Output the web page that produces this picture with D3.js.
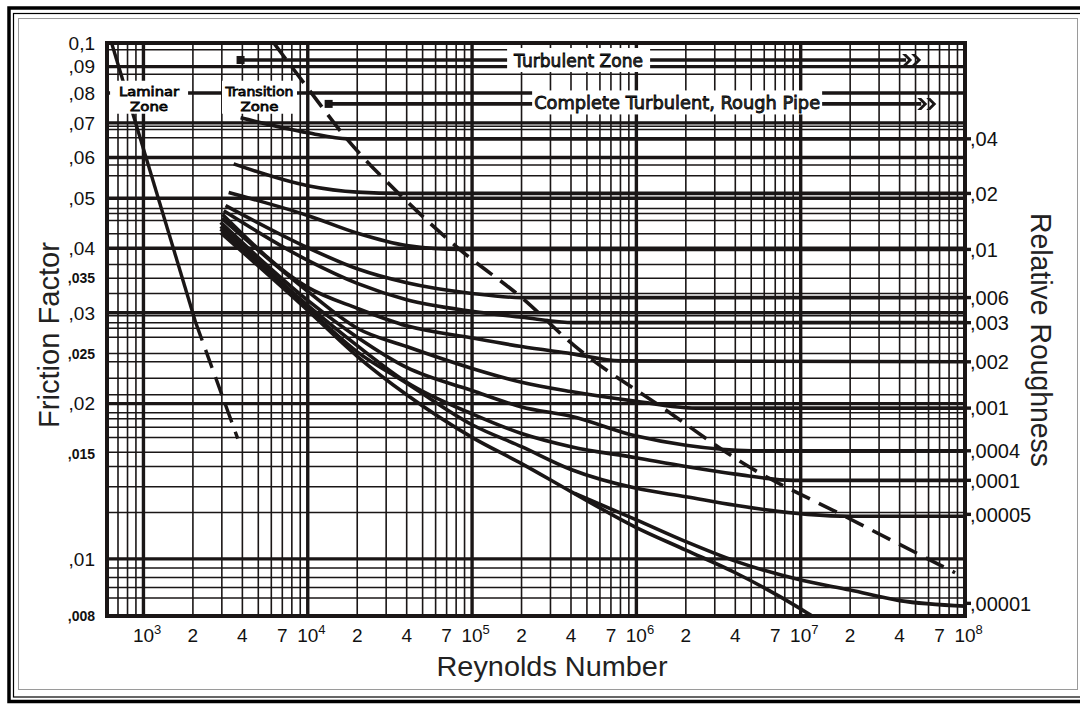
<!DOCTYPE html>
<html>
<head>
<meta charset="utf-8">
<script src="https://cdn.jsdelivr.net/npm/d3@7"></script>
<style>
  html, body { margin: 0; padding: 0; background: #fff; }
  svg { display: block; font-family: "Liberation Sans", Arial, sans-serif; }
</style>
</head>
<body>
<svg id="chart" width="1080" height="704"></svg>
<script>
// Values
var reynoldsDomain = [600, 1e8];
var frictionDomain = [0.00775, 0.1];

var xTickValues = [1e3, 2e3, 4e3, 7e3, 1e4, 2e4, 4e4, 7e4, 1e5, 2e5, 4e5, 7e5,
  1e6, 2e6, 4e6, 7e6, 1e7, 2e7, 4e7, 7e7, 1e8];
var xTickLabels = ["10^3", "2", "4", "7", "10^4", "2", "4", "7", "10^5", "2", "4", "7",
  "10^6", "2", "4", "7", "10^7", "2", "4", "7", "10^8"];

var yTickValues = [0.1, 0.09, 0.08, 0.07, 0.06, 0.05, 0.04, 0.035, 0.03, 0.025, 0.02, 0.016, 0.01, 0.00775];
var yTickLabels = ["0,1", ",09", ",08", ",07", ",06", ",05", ",04", ",035", ",03", ",025", ",02", ",015", ",01", ",008"];

// relative roughness labels on the right, at the friction value of each asymptote
var roughnessLabels = [",04", ",02", ",01", ",006", ",003", ",002", ",001", ",0004", ",0001", ",00005", ",00001"];
var roughnessFriction = [0.0652, 0.0511, 0.0398, 0.0321, 0.0287, 0.0241, 0.0196, 0.0162, 0.0142, 0.0122, 0.0082];

var majorFriction = [0.09, 0.08, 0.07, 0.06, 0.05, 0.04, 0.03, 0.02, 0.01];
var minorFriction = [0.097, 0.087, 0.069, 0.068, 0.0655, 0.058, 0.0553, 0.0478, 0.0467, 0.0453, 0.0427,
  0.0372, 0.035, 0.0327, 0.0296, 0.0287, 0.028, 0.0269, 0.025, 0.0241, 0.0224, 0.0208,
  0.0192, 0.0187, 0.018, 0.0172, 0.0161, 0.0151, 0.0138, 0.0123, 0.0096, 0.0092, 0.0088, 0.0084];
var gridMultipliers = [1, 2, 3, 4, 5, 6, 7, 8, 9];
var gridDecades = [2, 3, 4, 5, 6, 7];

// curves: [Reynolds, friction factor]
var rough04 = [[3900, 0.0716], [1e4, 0.067], [1.75e4, 0.0652], [1e8, 0.0652]];
var rough02 = [[3540, 0.0583], [1e4, 0.0529], [2e4, 0.0514], [3.7e4, 0.0511], [1e8, 0.0511]];
var rough01 = [[3300, 0.0513], [1e4, 0.0463], [2e4, 0.0428], [4e4, 0.0405], [8.6e4, 0.0398], [1e8, 0.0398]];
var rough006 = [[3160, 0.0484], [1e4, 0.0401], [2e4, 0.0365], [4e4, 0.0343], [1e5, 0.0327], [2e5, 0.0321], [1e8, 0.0321]];
var rough003 = [[3080, 0.0473], [1e4, 0.0379], [2e4, 0.0342], [4e4, 0.0318], [1e5, 0.0302], [2e5, 0.0294],
  [4.2e5, 0.0287], [1e8, 0.0287]];
var rough002 = [[3030, 0.0465], [1e4, 0.0336], [2e4, 0.0306], [4e4, 0.0283], [1e5, 0.0268], [2e5, 0.0258],
  [4e5, 0.025], [8e5, 0.0242], [1e8, 0.0241]];
var rough001 = [[3000, 0.0457], [1e4, 0.033], [2e4, 0.028], [4e4, 0.0258], [1e5, 0.0234], [2e5, 0.022],
  [4e5, 0.0211], [1e6, 0.0202], [2.3e6, 0.0196], [1e8, 0.0196]];
var rough0004 = [[2950, 0.0449], [1e4, 0.0317], [2e4, 0.0269], [4e4, 0.0235], [1e5, 0.0212], [2e5, 0.0197],
  [4e5, 0.0189], [1e6, 0.0173], [2e6, 0.0166], [5e6, 0.0162], [1e8, 0.0162]];
var rough0001 = [[2950, 0.0441], [1e4, 0.031], [2e4, 0.0259], [4e4, 0.022], [1e5, 0.0191], [2e5, 0.0175],
  [4e5, 0.0165], [1e6, 0.0157], [2e6, 0.0151], [4e6, 0.0146], [9e6, 0.0142], [1e8, 0.0142]];
var rough00005 = [[2950, 0.0436], [1e4, 0.0306], [2e4, 0.0252], [4e4, 0.0219], [1e5, 0.0182], [2e5, 0.0165],
  [4e5, 0.0149], [1e6, 0.0137], [2e6, 0.0132], [4e6, 0.0127], [1.1e7, 0.0122], [2e7, 0.0121], [1e8, 0.0121]];
var rough00001 = [[4.2e5, 0.0134], [1e6, 0.0119], [2e6, 0.0108], [4e6, 0.0099], [1e7, 0.0091], [2e7, 0.0087],
  [4e7, 0.0083], [1e8, 0.0081]];
var smoothPipe = [[2950, 0.0429], [1e4, 0.0303], [2e4, 0.0247], [4e4, 0.0208], [1e5, 0.0172], [2e5, 0.0153],
  [4e5, 0.0135], [1e6, 0.0115], [2e6, 0.0104], [4e6, 0.0094], [1e7, 0.0080], [1.25e7, 0.00765]];

var laminarSolid = [[640, 0.1], [2080, 0.0287]];
var laminarDashed = [[2080, 0.0287], [3750, 0.0171]];
var roughBoundary = [[6210, 0.1], [9460, 0.0837], [1.75e4, 0.0649], [3.69e4, 0.0506], [8.57e4, 0.0396],
  [2e5, 0.0321], [4.19e5, 0.0259], [1.42e6, 0.0197], [4.82e6, 0.0151], [1.85e7, 0.0121], [8.7e7, 0.0094]];

// zone annotations: [Reynolds at centre, friction at centre]
var laminarZoneAt = [1082, 0.0785];
var transitionZoneAt = [5085, 0.0785];
var turbulentZoneAt = [4.45e5, 0.0927];
var roughPipeAt = [1.77e6, 0.0767];
var turbulentArrow = [3900, 4.14e7, 0.0927];
var roughPipeArrow = [1.34e4, 5.12e7, 0.0762];

var svg = d3.select("#chart");
var plot = {left: 107, right: 965, top: 43, bottom: 616};
var ink = "#1a1616";

var x = d3.scaleLog().domain(reynoldsDomain).range([plot.left, plot.right]);
var y = d3.scaleLog().domain(frictionDomain).range([plot.bottom, plot.top]);

// Outer frame
var frame = svg.append("g").attr("fill", "none");
frame.append("rect").attr("x", 9).attr("y", 8).attr("width", 1090).attr("height", 693.5)
  .attr("stroke", "#000").attr("stroke-width", 3.5);
frame.append("rect").attr("x", 13.5).attr("y", 13.5).attr("width", 1080).attr("height", 683.5)
  .attr("stroke", "#000").attr("stroke-width", 1.2);
frame.append("rect").attr("x", 18.5).attr("y", 18.5).attr("width", 1059).attr("height", 671)
  .attr("stroke", "#9a9a9a").attr("stroke-width", 1);

// Grid
var grid = svg.append("g").attr("stroke", ink);
var xGrid = [];
gridDecades.forEach(function(d) {
  gridMultipliers.forEach(function(m) {
    var v = m * Math.pow(10, d);
    if (v > reynoldsDomain[0] && v < reynoldsDomain[1]) xGrid.push({v: v, major: m === 1});
  });
});
grid.selectAll(".vx").data(xGrid).enter().append("line")
  .attr("x1", function(d) { return x(d.v); }).attr("x2", function(d) { return x(d.v); })
  .attr("y1", plot.top).attr("y2", plot.bottom)
  .attr("stroke-width", function(d) { return d.major ? 3.4 : 1.6; });
grid.selectAll(".hmin").data(minorFriction).enter().append("line")
  .attr("x1", plot.left).attr("x2", plot.right)
  .attr("y1", function(d) { return y(d); }).attr("y2", function(d) { return y(d); })
  .attr("stroke-width", 1.5);
grid.selectAll(".hmaj").data(majorFriction).enter().append("line")
  .attr("x1", plot.left).attr("x2", plot.right)
  .attr("y1", function(d) { return y(d); }).attr("y2", function(d) { return y(d); })
  .attr("stroke-width", 3.4);

// Curves
svg.append("clipPath").attr("id", "plotClip").append("rect")
  .attr("x", plot.left).attr("y", plot.top)
  .attr("width", plot.right - plot.left).attr("height", plot.bottom - plot.top);

var line = d3.line()
  .x(function(d) { return x(d[0]); })
  .y(function(d) { return y(d[1]); })
  .curve(d3.curveMonotoneX);

var curves = [rough04, rough02, rough01, rough006, rough003, rough002, rough001,
  rough0004, rough0001, rough00005, rough00001, smoothPipe];

var marks = svg.append("g").attr("clip-path", "url(#plotClip)")
  .attr("fill", "none").attr("stroke", ink).attr("stroke-linecap", "butt");
marks.selectAll(".curve").data(curves).enter().append("path")
  .attr("d", line).attr("stroke-width", 3.6);
marks.append("path").datum(laminarSolid).attr("d", line).attr("stroke-width", 3.4);
marks.append("path").datum(laminarDashed).attr("d", line).attr("stroke-width", 3.4)
  .attr("stroke-dasharray", "19,10");
marks.append("path").datum(roughBoundary).attr("d", line).attr("stroke-width", 3.6)
  .attr("stroke-dasharray", "20,10");

// Zone arrows
function zoneArrow(a) {
  var x0 = x(a[0]), x1 = x(a[1]), yy = y(a[2]);
  var g = svg.append("g");
  g.append("line").attr("x1", x0).attr("x2", x1 + 4).attr("y1", yy).attr("y2", yy)
    .attr("stroke", ink).attr("stroke-width", 3.6);
  g.append("rect").attr("x", x0 - 4).attr("y", yy - 4).attr("width", 8).attr("height", 8).attr("fill", ink);
  [0, 9].forEach(function(dx) {
    var c = x1 + dx;
    g.append("path")
      .attr("d", "M" + c + "," + (yy - 6) + "h4l6,6l-6,6h-4l6,-6z")
      .attr("fill", ink);
  });
}
zoneArrow(turbulentArrow);
zoneArrow(roughPipeArrow);

// Zone labels on white boxes
function zoneLabel(at, w, h, lines, size, lengths, offsets) {
  var cx = x(at[0]), cy = y(at[1]);
  var g = svg.append("g");
  g.append("rect").attr("x", cx - w / 2).attr("y", cy - h / 2).attr("width", w).attr("height", h)
    .attr("fill", "#fff");
  lines.forEach(function(t, i) {
    g.append("text").attr("x", cx).attr("y", cy + offsets[i])
      .attr("text-anchor", "middle")
      .attr("font-family", "'DejaVu Sans', sans-serif")
      .attr("font-size", size)
      .attr("textLength", lengths[i]).attr("lengthAdjust", "spacingAndGlyphs")
      .attr("fill", "#3c3c3c").attr("stroke", "#000").attr("stroke-width", 0.8)
      .text(t);
  });
}
zoneLabel(laminarZoneAt, 78, 33, ["Laminar", "Zone"], 12.5, [60, 38], [-1, 14]);
zoneLabel(transitionZoneAt, 75, 33, ["Transition", "Zone"], 12.5, [68, 38], [-1, 14]);
zoneLabel(turbulentZoneAt, 143, 24, ["Turbulent Zone"], 18, [129], [7]);
zoneLabel(roughPipeAt, 290, 24, ["Complete Turbulent, Rough Pipe"], 18, [286], [7]);

// Plot border
svg.append("rect").attr("x", plot.left).attr("y", plot.top)
  .attr("width", plot.right - plot.left).attr("height", plot.bottom - plot.top)
  .attr("fill", "none").attr("stroke", ink).attr("stroke-width", 4);

// Left tick labels
svg.append("g").selectAll("text").data(yTickValues).enter().append("text")
  .attr("x", 95).attr("y", function(d) { return y(d); })
  .attr("dy", "0.36em").attr("text-anchor", "end")
  .attr("font-size", function(d, i) { return yTickLabels[i].length > 3 ? 14 : 19; })
  .attr("font-weight", function(d, i) { return yTickLabels[i].length > 3 ? "bold" : "normal"; })
  .attr("fill", "#111")
  .text(function(d, i) { return yTickLabels[i]; });

// Bottom tick labels
var xt = svg.append("g").attr("fill", "#111");
xTickValues.forEach(function(v, i) {
  var parts = xTickLabels[i].split("^");
  xt.append("text").attr("x", x(v)).attr("y", 642).attr("text-anchor", "middle")
    .attr("font-size", 19).text(parts[0]);
  if (parts[1]) {
    xt.append("text").attr("x", x(v) + 10.5).attr("y", 634).attr("font-size", 13).text(parts[1]);
  }
});

// Right roughness labels
var rl = svg.append("g");
rl.selectAll("line").data(roughnessFriction).enter().append("line")
  .attr("x1", plot.right).attr("x2", plot.right + 6)
  .attr("y1", function(d) { return y(d); }).attr("y2", function(d) { return y(d); })
  .attr("stroke", ink).attr("stroke-width", 3.4);
rl.selectAll("text").data(roughnessFriction).enter().append("text")
  .attr("x", plot.right + 5).attr("y", function(d) { return y(d); })
  .attr("dy", "0.36em").attr("font-size", 20).attr("fill", "#111")
  .text(function(d, i) { return roughnessLabels[i]; });

// Axis titles
svg.append("text").attr("transform", "translate(59,335) rotate(-90)")
  .attr("text-anchor", "middle").attr("font-size", 29).attr("fill", "#222")
  .attr("textLength", 186).attr("lengthAdjust", "spacingAndGlyphs")
  .text("Friction Factor");
svg.append("text").attr("transform", "translate(1031,340) rotate(90)")
  .attr("text-anchor", "middle").attr("font-size", 29).attr("fill", "#222")
  .attr("textLength", 254).attr("lengthAdjust", "spacingAndGlyphs")
  .text("Relative Roughness");
svg.append("text").attr("x", 552).attr("y", 676)
  .attr("text-anchor", "middle").attr("font-size", 28).attr("fill", "#222")
  .attr("textLength", 231).attr("lengthAdjust", "spacingAndGlyphs")
  .text("Reynolds Number");
</script>
</body>
</html>
